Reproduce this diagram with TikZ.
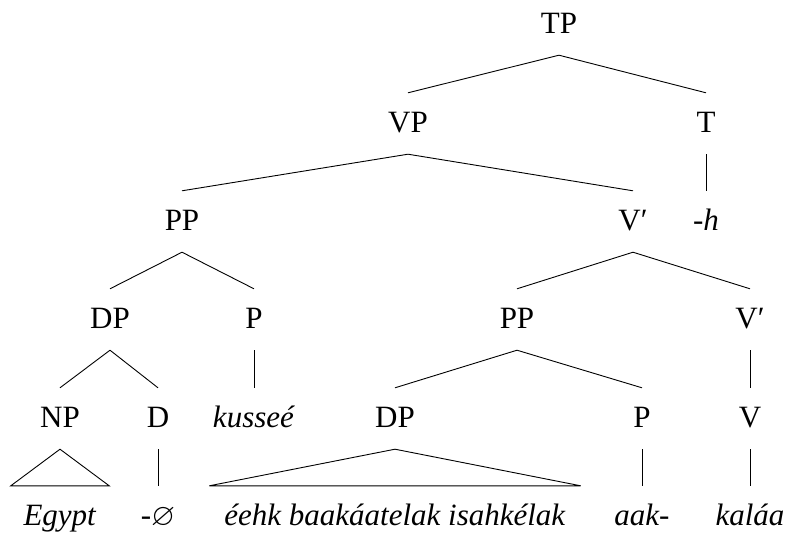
\documentclass[tikz,border=0pt]{standalone}
\usepackage{amssymb}
\usepackage{fontspec}
\setmainfont{Liberation Serif}
\begin{document}
\begin{tikzpicture}[x=1pt,y=-1pt,
  lab/.style={anchor=base,font=\fontsize{31}{37}\selectfont,text height=20pt,text depth=3pt,inner ysep=19pt,inner xsep=10pt},
  edge/.style={line width=0.9pt}]
\useasboundingbox (0,0) rectangle (788,533);
% row 0
\node[lab] (TP) at (559,33) {TP};
% row 1
\node[lab] (VP) at (408,132) {VP};
\node[lab] (T) at (706,132) {T};
% row 2
\node[lab] (PPa) at (182,230) {PP};
\node[lab] (Vba) at (633,230) {V′};
\node[lab] (h) at (706,230) {-\textit{h}};
% row 3
\node[lab] (DPa) at (110,328) {DP};
\node[lab] (Pa) at (254,328) {P};
\node[lab] (PPb) at (517,328) {PP};
\node[lab] (Vbb) at (750,328) {V′};
% row 4
\node[lab] (NP) at (60,427) {NP};
\node[lab] (D) at (158,427) {D};
\node[lab] (kus) at (254,427) {\textit{kusseé}};
\node[lab] (DPb) at (395,427) {DP};
\node[lab] (Pb) at (642,427) {P};
\node[lab] (V) at (750,427) {V};
% row 5
\node[lab,minimum width=98pt] (egy) at (60,525) {\textit{Egypt}};
\node[lab] (nul) at (158,525) {-$\varnothing$};
\node[lab,minimum width=371pt] (eeh) at (395,525) {\textit{éehk baakáatelak isahkélak}};
\node[lab] (aak) at (642,525) {\textit{aak-}};
\node[lab] (kal) at (750,525) {\textit{kaláa}};
% edges
\draw[edge] (TP.south) -- (VP.north);
\draw[edge] (TP.south) -- (T.north);
\draw[edge] (T.south) -- (h.north);
\draw[edge] (VP.south) -- (PPa.north);
\draw[edge] (VP.south) -- (Vba.north);
\draw[edge] (PPa.south) -- (DPa.north);
\draw[edge] (PPa.south) -- (Pa.north);
\draw[edge] (Vba.south) -- (PPb.north);
\draw[edge] (Vba.south) -- (Vbb.north);
\draw[edge] (DPa.south) -- (NP.north);
\draw[edge] (DPa.south) -- (D.north);
\draw[edge] (Pa.south) -- (kus.north);
\draw[edge] (PPb.south) -- (DPb.north);
\draw[edge] (PPb.south) -- (Pb.north);
\draw[edge] (Vbb.south) -- (V.north);
\draw[edge] (NP.south) -- (egy.north west) -- (egy.north east) -- cycle;
\draw[edge] (D.south) -- (nul.north);
\draw[edge] (DPb.south) -- (eeh.north west) -- (eeh.north east) -- cycle;
\draw[edge] (Pb.south) -- (aak.north);
\draw[edge] (V.south) -- (kal.north);
\end{tikzpicture}
\end{document}
